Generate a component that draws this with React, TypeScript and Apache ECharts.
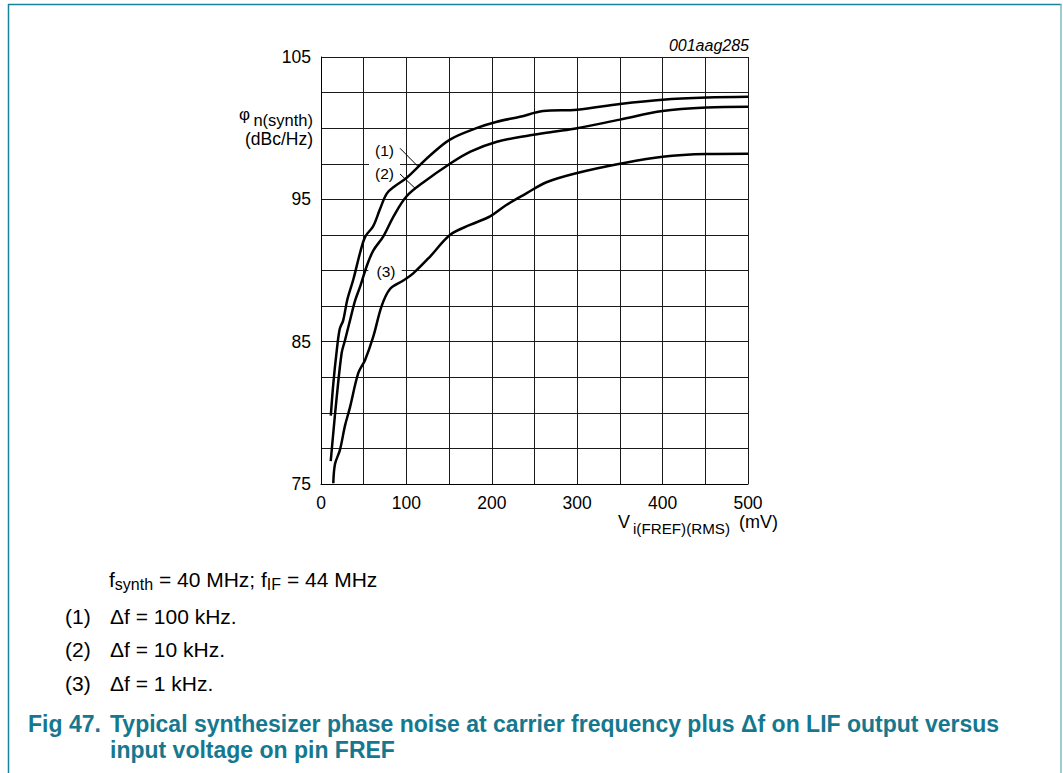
import React, { useEffect, useRef } from "react";
import * as echarts from "echarts";

const FONT = "'Liberation Sans', Arial, Helvetica, sans-serif";

// axis tick labels
const xTickLabels = [0, 100, 200, 300, 400, 500];
const yTickLabels = [75, 85, 95, 105];

// curve (1): Δf = 100 kHz
const v1 = [11.5, 14.5, 18.5, 22, 26, 31, 38, 46, 52, 61, 69, 77, 86, 100, 114, 128, 151, 182, 206, 233, 260, 300, 350, 400, 452, 500];
const p1 = [79.8, 82.1, 84.4, 85.9, 86.5, 88.0, 89.4, 91.3, 92.4, 93.1, 94.3, 95.4, 95.9, 96.5, 97.3, 98.1, 99.2, 100.0, 100.45, 100.8, 101.2, 101.3, 101.7, 102.0, 102.15, 102.2];

// curve (2): Δf = 10 kHz
const v2 = [11.4, 14.4, 18.4, 24.2, 28.1, 34, 40, 46, 53.5, 61.2, 73, 85, 100, 120, 151, 175, 206, 245, 272, 300, 350, 400, 452, 500];
const p2 = [76.6, 78.6, 81.1, 84.2, 85.1, 86.5, 87.9, 88.9, 90.3, 91.4, 92.4, 93.8, 95.2, 96.2, 97.5, 98.35, 99.05, 99.5, 99.75, 100.0, 100.6, 101.2, 101.45, 101.5];

// curve (3): Δf = 1 kHz
const v3 = [14.4, 16.4, 22.2, 28.1, 34, 43.7, 51.5, 61.2, 71, 80.8, 96.4, 108, 128, 151, 174.5, 198, 217, 240, 264, 300, 350, 400, 452, 500];
const p3 = [75.05, 76.4, 77.4, 79.1, 80.4, 82.8, 83.7, 85.35, 87.5, 88.7, 89.3, 89.8, 91.0, 92.5, 93.2, 93.8, 94.6, 95.4, 96.2, 96.85, 97.5, 98.0, 98.18, 98.2];

const curveLabels = ["(1)", "(2)", "(3)"];
const curveLabelPos = [
  [74.4, 98.42],
  [74.4, 96.78],
  [76.1, 89.92],
];
const leaderLines = [
  [[92.5, 98.59], [113.9, 97.29]],
  [[92.5, 96.78], [110.1, 95.78]],
  null,
];
// white breaks in the grid behind the curve labels
const gridBreaks = [
  [[56.2, 97.3], [92.5, 97.7]],
  null,
  [[55.5, 89.8], [94.5, 90.2]],
];
const noteTexts = ["Δf = 100 kHz.", "Δf = 10 kHz.", "Δf = 1 kHz."];

const CAPTION = "#16788f";
const BORDER = "#1a819a";
const CENTRAL = 0.3465; // central baseline offset (em)

let measureCtx: CanvasRenderingContext2D | null = null;
function textWidth(s: string, fs: number, weight = "normal") {
  if (!measureCtx) measureCtx = document.createElement("canvas").getContext("2d");
  measureCtx!.font = `${weight} ${fs}px ${FONT}`;
  return measureCtx!.measureText(s).width;
}

function makeSeries(v: number[], p: number[], i: number) {
  const s: any = {
    type: "line",
    name: curveLabels[i],
    data: v.map((x, k) => [x, p[k]]),
    showSymbol: false,
    symbol: "none",
    smooth: 0.35,
    silent: true,
    z: 3,
    lineStyle: { color: "#000", width: 2.5 },
    markPoint: {
      symbol: "circle",
      symbolSize: 1,
      silent: true,
      itemStyle: { color: "rgba(0,0,0,0)" },
      label: {
        show: true,
        position: "inside",
        formatter: curveLabels[i],
        color: "#000",
        fontSize: 15.5,
        fontFamily: FONT,
      },
      data: [{ coord: curveLabelPos[i] }],
    },
  };
  const ll = leaderLines[i];
  if (ll) {
    s.markLine = {
      symbol: ["none", "none"],
      silent: true,
      label: { show: false },
      lineStyle: { color: "#000", width: 1, type: "solid" },
      data: [[{ coord: ll[0] }, { coord: ll[1] }]],
    };
  }
  const gb = gridBreaks[i];
  if (gb) {
    s.markArea = {
      silent: true,
      itemStyle: { color: "#fff", borderWidth: 0 },
      label: { show: false },
      data: [[{ coord: gb[0] }, { coord: gb[1] }]],
    };
  }
  return s;
}

// text placed by its baseline
function text(str: string, x: number, baseline: number, o: any = {}) {
  const { align = "left", fontSize = 18, ...rest } = o;
  return {
    type: "text",
    x,
    y: baseline - CENTRAL * fontSize,
    silent: true,
    z: 10,
    style: {
      text: str,
      fill: "#000",
      fontFamily: FONT,
      fontSize,
      align,
      textAlign: align,
      verticalAlign: "middle",
      textVerticalAlign: "middle",
      ...rest,
    },
  };
}

// a run of texts with subscripts, laid out left to right
function run(parts: { t: string; fs: number; dy: number }[], x: number, baseline: number) {
  const out: any[] = [];
  let cx = x;
  parts.forEach((p) => {
    out.push(text(p.t, cx, baseline + p.dy, { fontSize: p.fs }));
    cx += textWidth(p.t, p.fs);
  });
  return out;
}

export default function App() {
  const ref = useRef<HTMLDivElement>(null);
  useEffect(() => {
    const chart = echarts.init(ref.current!, null, { renderer: "svg" });
    const graphic: any[] = [
      // page frame
      { type: "line", silent: true, shape: { x1: 8, y1: 4.5, x2: 1061.5, y2: 4.5 }, style: { stroke: BORDER, lineWidth: 1.5 } },
      { type: "line", silent: true, shape: { x1: 8.5, y1: 4, x2: 8.5, y2: 773 }, style: { stroke: BORDER, lineWidth: 1.5 } },
      { type: "line", silent: true, shape: { x1: 1061, y1: 4, x2: 1061, y2: 773 }, style: { stroke: "#7fbac7", lineWidth: 1.5 } },
      // drawing code
      text("001aag285", 749, 51.5, { align: "right", fontSize: 16, fontStyle: "italic" }),
      // y axis name
      text("φ", 239, 120, { fontSize: 17 }),
      text("n(synth)", 313, 126, { align: "right", fontSize: 16.5 }),
      text("(dBc/Hz)", 313, 145, { align: "right", fontSize: 17.5 }),
      // x axis name
      text("V", 618, 528.5, { fontSize: 18 }),
      text("i(FREF)(RMS)", 633, 534, { fontSize: 15.2 }),
      text("(mV)", 739, 528.5, { fontSize: 18 }),
      // conditions
      ...run(
        [
          { t: "f", fs: 21, dy: 0 },
          { t: "synth", fs: 16, dy: 4 },
          { t: " = 40 MHz; f", fs: 21, dy: 0 },
          { t: "IF", fs: 16, dy: 4 },
          { t: " = 44 MHz", fs: 21, dy: 0 },
        ],
        109,
        586.5
      ),
    ];
    const noteBase = [624, 657, 690.5];
    curveLabels.forEach((lab, i) => {
      graphic.push(text(lab, 65, noteBase[i], { fontSize: 21 }));
      graphic.push(text(noteTexts[i], 110, noteBase[i], { fontSize: 21 }));
    });
    // caption
    const cap = { fontSize: 23, fontWeight: "bold", fill: CAPTION };
    graphic.push(text("Fig 47.", 28, 731.5, cap));
    graphic.push(text("Typical synthesizer phase noise at carrier frequency plus Δf on LIF output versus", 110, 731.5, cap));
    graphic.push(text("input voltage on pin FREF", 110, 757.5, cap));

    const gridLine = { show: true, lineStyle: { color: "#1a1a1a", width: 1 } };
    chart.setOption({
      animation: false,
      backgroundColor: "#fff",
      grid: { left: 321, right: 315, top: 57, bottom: 289, containLabel: false, outerBoundsMode: "none" },
      xAxis: {
        type: "value",
        min: 0,
        max: 500,
        interval: 50,
        axisLine: { show: true, lineStyle: { color: "#000", width: 1 } },
        axisTick: { show: false },
        splitLine: gridLine,
        axisLabel: {
          formatter: (v: number) => (xTickLabels.includes(v) ? String(v) : ""),
          color: "#000",
          fontSize: 17.5,
          fontFamily: FONT,
          margin: 10,
        },
      },
      yAxis: {
        type: "value",
        min: 75,
        max: 105,
        interval: 2.5,
        axisLine: { show: true, lineStyle: { color: "#000", width: 1 } },
        axisTick: { show: false },
        splitLine: gridLine,
        axisLabel: {
          formatter: (v: number) => (yTickLabels.includes(v) ? String(v) : ""),
          color: "#000",
          fontSize: 17.5,
          fontFamily: FONT,
          margin: 10,
        },
      },
      series: [makeSeries(v1, p1, 0), makeSeries(v2, p2, 1), makeSeries(v3, p3, 2)],
      graphic,
    });
    return () => chart.dispose();
  }, []);
  return (
    <div
      ref={ref}
      style={{ position: "fixed", left: 0, top: 0, width: 1063, height: 773, background: "#fff" }}
    />
  );
}
